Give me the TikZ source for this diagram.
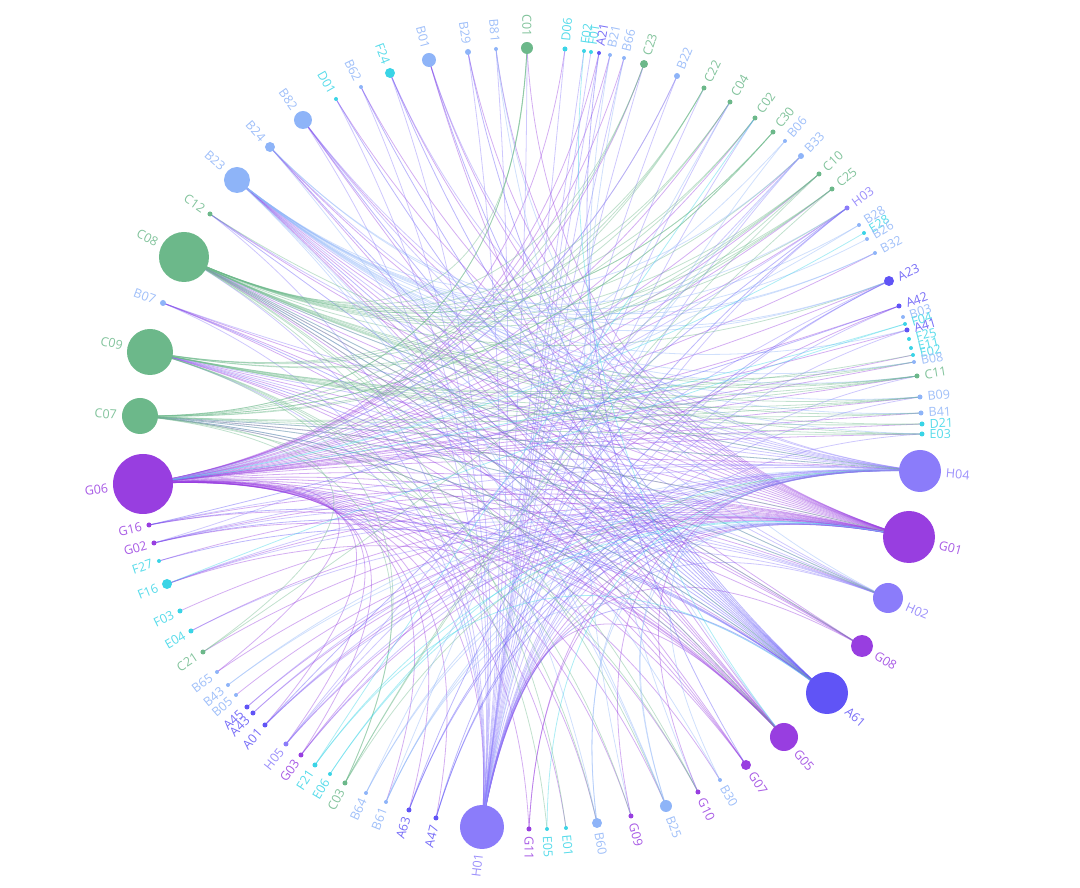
\documentclass[tikz,border=0pt]{standalone}
\usepackage{fontspec}
\setmainfont{Open Sans}
\usetikzlibrary{calc}
\pgfdeclarelayer{edges}
\pgfsetlayers{edges,main}
\definecolor{cG}{RGB}{152,62,224}
\definecolor{cH}{RGB}{139,124,250}
\definecolor{cA}{RGB}{96,84,246}
\definecolor{cB}{RGB}{142,180,248}
\definecolor{cC}{RGB}{108,184,138}
\definecolor{cE}{RGB}{58,212,230}
\tikzset{
  dot/.style={circle,inner sep=0pt,outer sep=0pt},
  lbl/.style={inner sep=0pt,font=\fontsize{12.5}{14}\selectfont},
  edge/.style={line width=0.8pt,draw opacity=0.42}
}
% name, x, y (pixels of the reference), radius, colour
\newcommand\nd[5]{%
  \colorlet{col#1}{#5}%
  \pgfmathsetmacro\ang{atan2(438-#3,#2-529)}%
  \pgfmathsetmacro\dd{#4+5}%
  \node[dot,fill=#5,minimum size={2*#4pt}] (#1) at ($(#2,#3)-(529,438)$) {};
  \ifdim #2pt<529pt
    \node[lbl,text=#5!85!white,anchor=east,rotate=\ang+180] (l#1) at ($(#1.center)+(\ang:\dd pt)$) {#1};
  \else
    \node[lbl,text=#5!85!white,anchor=west,rotate=\ang] (l#1) at ($(#1.center)+(\ang:\dd pt)$) {#1};
  \fi
}
\newcommand\ed[2]{\draw[edge,draw=col#1] (#1.center) .. controls ($0.3667*(#1.center)+0.0333*(#2.center)$) and ($0.0333*(#1.center)+0.3667*(#2.center)$) .. (#2.center);}
\begin{document}
\begin{tikzpicture}[x=1pt,y=-1pt]
\useasboundingbox ($(0,0)-(529,438)$) rectangle ($(1080,888)-(529,438)$);
\nd{B01}{429}{60}{7}{cB}
\nd{B29}{468}{52}{3}{cB}
\nd{B81}{496}{49}{2}{cB}
\nd{C01}{527}{48}{6}{cC}
\nd{D06}{565}{49}{2.5}{cE}
\nd{F02}{584}{51}{2}{cE}
\nd{F01}{591}{52}{2}{cE}
\nd{A21}{599}{53}{2}{cA}
\nd{B21}{610}{55}{2}{cB}
\nd{B66}{624}{58}{2}{cB}
\nd{C23}{644}{64}{4}{cC}
\nd{B22}{677}{76}{3}{cB}
\nd{C22}{704}{88}{2.5}{cC}
\nd{C04}{730}{102}{2.5}{cC}
\nd{C02}{755}{118}{2.5}{cC}
\nd{C30}{773}{132}{2.5}{cC}
\nd{B06}{785}{141}{2}{cB}
\nd{B33}{801}{156}{3}{cB}
\nd{C10}{819}{174}{2.5}{cC}
\nd{C25}{832}{189}{2.5}{cC}
\nd{H03}{847}{208}{2.5}{cH}
\nd{B28}{859}{225}{2}{cB}
\nd{E28}{864}{233}{2}{cE}
\nd{B26}{867}{239}{2}{cB}
\nd{B32}{875}{253}{2}{cB}
\nd{A23}{889}{281}{5}{cA}
\nd{A42}{899}{306}{2.5}{cA}
\nd{B03}{903}{317}{2}{cB}
\nd{F04}{905}{324}{2}{cE}
\nd{A41}{907}{330}{2.5}{cA}
\nd{F25}{909}{339}{2}{cE}
\nd{E11}{911}{348}{2}{cE}
\nd{E02}{913}{355}{2}{cE}
\nd{B08}{914}{362}{2}{cB}
\nd{C11}{917}{376}{2.5}{cC}
\nd{B09}{920}{397}{2.5}{cB}
\nd{B41}{921}{413}{2.5}{cB}
\nd{D21}{922}{424}{2.5}{cE}
\nd{E03}{922}{434}{2.5}{cE}
\nd{H04}{920}{471}{21}{cH}
\nd{G01}{909}{537}{26}{cG}
\nd{H02}{888}{598}{15}{cH}
\nd{G08}{862}{646}{11}{cG}
\nd{A61}{827}{693}{21}{cA}
\nd{G05}{784}{737}{14}{cG}
\nd{G07}{746}{765}{5}{cG}
\nd{B30}{720}{780}{2}{cB}
\nd{G10}{698}{792}{2.5}{cG}
\nd{B25}{666}{806}{6}{cB}
\nd{G09}{631}{816}{2.5}{cG}
\nd{B60}{597}{823}{5}{cB}
\nd{E01}{566}{828}{2}{cE}
\nd{E05}{547}{829}{2}{cE}
\nd{G11}{529}{829}{2.5}{cG}
\nd{H01}{482}{827}{22}{cH}
\nd{A47}{436}{818}{2.5}{cA}
\nd{A63}{409}{810}{2.5}{cA}
\nd{B61}{386}{802}{2}{cB}
\nd{B64}{366}{793}{2}{cB}
\nd{C03}{345}{783}{2.5}{cC}
\nd{E06}{330}{774}{2}{cE}
\nd{F21}{315}{765}{2.5}{cE}
\nd{G03}{301}{755}{2.5}{cG}
\nd{H05}{286}{744}{2.5}{cH}
\nd{A01}{265}{725}{2.5}{cA}
\nd{A43}{253}{713}{2.5}{cA}
\nd{A45}{247}{707}{2.5}{cA}
\nd{B05}{236}{695}{2}{cB}
\nd{B43}{228}{685}{2}{cB}
\nd{B65}{217}{672}{2}{cB}
\nd{C21}{203}{652}{2.5}{cC}
\nd{E04}{191}{631}{2.5}{cE}
\nd{F03}{180}{611}{2.5}{cE}
\nd{F16}{167}{584}{5}{cE}
\nd{F27}{159}{561}{2}{cE}
\nd{G02}{154}{543}{2.5}{cG}
\nd{G16}{149}{525}{2.5}{cG}
\nd{G06}{143}{484}{30}{cG}
\nd{C07}{140}{416}{18}{cC}
\nd{C09}{150}{352}{23}{cC}
\nd{B07}{163}{303}{3}{cB}
\nd{C08}{184}{257}{25}{cC}
\nd{C12}{210}{214}{2.5}{cC}
\nd{B23}{237}{180}{13}{cB}
\nd{B24}{270}{147}{5}{cB}
\nd{B82}{303}{120}{9}{cB}
\nd{D01}{336}{99}{2}{cE}
\nd{B62}{361}{87}{2}{cB}
\nd{F24}{390}{73}{5}{cE}
\begin{pgfonlayer}{edges}
\foreach \s/\ts in {
 G06/{H04,G01,H02,G08,A61,G05,E03,D21,B41,B09,C11,B08,E02,A41,A42,A23,B32,H03,C25,C10,B33,G07,G10,G09,B25,B60,H01,G11,B30,E01,A47,A63,B61,C02,C04,B22,C23,A21,B21,B66,D06,H05,G03,A01,B65},
 G01/{C09,C08,C07,B23,B24,B82,G16,G02,F27,F16,F03,E04,C21,B65,H05,G03,A01,A43,A45,B05,H01,B07,C12,D01,B62,F24,B01,B29,B81,C01},
 H04/{C09,C08,C07,G16,G02,F16,B23,H01,H05,B07,C12,B24,B82,B01,F24,A45,A43,A01,G03},
 H02/{C09,C08,C07,H01,B23,F16,G02,E04,B82,A01},
 G08/{C09,C08,B23,H01,B07},
 A61/{C09,C08,C07,B23,B24,B82,B01,H01,G16,G02,F27,B07,C12,D01,B62,F24,B29},
 G05/{C09,C08,C07,B23,H01,G02,G16,F16,B82,B01,B24,B07},
 G07/{C08,B23,C09},
 H01/{C01,B29,B81,D06,F02,F01,A21,B21,B66,C23,B22,C22,C04,C02,B33,H03,A23,A42,A41,C11,B09,E03,F24,B62,D01,B82,C12,B07,C08,C09},
 C08/{H04,H02,G08,A61,G05,C11,B09,B41,D21,E03,B08,C10,C25,C30,C02,C04,C22,C23,C01,A23,H03,B33,G10,B25,E01},
 C09/{C11,B09,B41,D21,E03,B08,E02,C10,C25,C02,C04,C22,G09,B60,E05,C03},
 C07/{H04,G01,H02,A61,G05,C11,B09,E03,C10,C25,C30,C22,C23,C01,G10,C03,C21},
 B23/{E03,B41,B09,C11,B08,A41,A23,B28,B26,B32,H03,B33,B25,B60,B30},
 B24/{B32,A23,B25},
 C12/{C11},
 C21/{C10},
 A01/{H03},
 H05/{B33,A23},
 G03/{A42},
 F21/{G01,A61,C02},
 E06/{G01,H04},
 C03/{H04,C10,C25},
 B64/{G01,H04,B33},
 B61/{G01,A61,H04,C04},
 A63/{G01,H04,H03},
 A47/{H04,G01,A23},
 B43/{G01,H04},
 C01/{C07},
 C30/{C08,C07},
 B06/{G06,H01},
 B28/{G06},
 E28/{G06},
 F04/{G06,F16},
 H03/{G02},
 A42/{G16},
 B22/{G06},
 B21/{G10},
 B66/{G09},
 A21/{G07},
 B81/{G05,H02},
 F02/{G05},
 E05/{H04},
 G11/{H04,G01},
 B60/{H04,G01},
 G09/{H04},
 B25/{H04,G01},
 G10/{H04},
 B30/{H04}}
 {\foreach \t in \ts {\ed{\s}{\t}}}
\end{pgfonlayer}
\end{tikzpicture}
\end{document}
